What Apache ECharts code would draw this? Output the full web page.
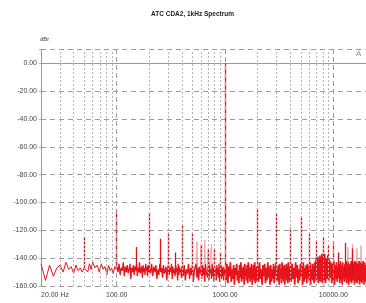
<!DOCTYPE html>
<html><head><meta charset="utf-8">
<script src="https://cdn.jsdelivr.net/npm/echarts@6/dist/echarts.min.js"></script>
<style>html,body{margin:0;padding:0;background:#fff}#c{width:366px;height:303px}</style>
</head><body><div id="c"></div>
<script>
const chartTitle = 'ATC CDA2, 1kHz Spectrum';
const yUnit = 'dBr';
const xTickValues = [20, 100, 1000, 10000];
const xTickTexts = ['20.00 Hz', '100.00', '1000.00', '10000.00'];
const gridMajorFreqs = [100, 1000, 10000];
const gridMinorFreqs = [30,40,50,60,70,80,90,200,300,400,500,600,700,800,900,2000,3000,4000,5000,6000,7000,8000,9000,20000];

// noise floor of the main trace, 20 Hz - 99 Hz
const lowFreqs = [20,22,24,26,28,30,32,34,36,38,40,42,44,46,48,50,52,54,56,58,
  60,63,66,69,72,75,78,81,84,87,90,93,96,99,100];
const lowLevels = [-144,-156,-145,-153,-147,-145,-150,-143,-148,-146,-151,-145,-149,-147,-150,-147,-146,-150,-144,-148,
  -143,-147,-145,-150,-144,-148,-146,-152,-145,-149,-147,-151,-146,-148,-146];
// 100 Hz - 990 Hz
const midFreqs = [100,102.5,105,107.5,110,112.5,115,117.5,120,122.5,125,127.5,130,132.5,135,137.5,140,142.5,145,147.5,
  150,152.5,155,157.5,160,162.5,165,167.5,170,172.5,175,177.5,180,182.5,185,187.5,190,192.5,195,197.5,
  200,205,210,215,220,225,230,235,240,245,250,255,260,265,270,275,280,285,290,295,
  300,305,310,315,320,325,330,335,340,345,350,355,360,365,370,375,380,385,390,395,
  400,410,420,430,440,450,460,470,480,490,500,510,520,530,540,550,560,570,580,590,
  600,610,620,630,640,650,660,670,680,690,700,710,720,730,740,750,760,770,780,790,
  800,810,820,830,840,850,860,870,880,890,900,910,920,930,940,950,960,970,980,990];
const midLevels = [-146,-150,-144,-152,-147,-149,-143,-153,-146,-150,-145,-151,-148,-144,-155,-147,-150,-145,-152,-146,
  -149,-144,-153,-147,-150,-143,-151,-148,-146,-154,-145,-150,-147,-152,-144,-149,-146,-153,-145,-150,
  -147,-151,-144,-153,-146,-150,-145,-155,-148,-152,-144,-150,-147,-154,-145,-151,-149,-146,-156,-148,
  -145,-152,-147,-150,-144,-155,-146,-151,-148,-153,-145,-150,-147,-156,-144,-152,-146,-150,-148,-154,
  -146,-153,-145,-156,-148,-151,-144,-155,-147,-152,-145,-157,-149,-150,-144,-154,-147,-156,-146,-151,
  -148,-155,-145,-152,-147,-157,-144,-150,-149,-154,-146,-156,-145,-151,-148,-155,-144,-153,-147,-157,
  -146,-150,-148,-156,-145,-152,-147,-154,-144,-157,-149,-151,-145,-155,-147,-153,-146,-156,-148,-152];
// 1 kHz - 20 kHz
const highFreqs = [1000,1020,1040,1060,1080,1100,1120,1140,1160,1180,1200,1220,1240,1260,1280,1300,1320,1340,1360,1380,
  1400,1420,1440,1460,1480,1500,1520,1540,1560,1580,1600,1620,1640,1660,1680,1700,1720,1740,1760,1780,
  1800,1820,1840,1860,1880,1900,1920,1940,1960,1980,
  2000,2040,2080,2120,2160,2200,2240,2280,2320,2360,2400,2440,2480,2520,2560,2600,2640,2680,2720,2760,
  2800,2840,2880,2920,2960,3000,3040,3080,3120,3160,3200,3240,3280,3320,3360,3400,3440,3480,3520,3560,
  3600,3640,3680,3720,3760,3800,3840,3880,3920,3960,
  4000,4080,4160,4240,4320,4400,4480,4560,4640,4720,4800,4880,4960,5040,5120,5200,5280,5360,5440,5520,
  5600,5680,5760,5840,5920,6000,6080,6160,6240,6320,6400,6480,6560,6640,6720,6800,6880,6960,7040,7120,
  7200,7280,7360,7440,7520,7600,7680,7760,7840,7920,
  8000,8150,8300,8450,8600,8750,8900,9050,9200,9350,9500,9650,9800,9950,10100,10250,10400,10550,10700,10850,
  11000,11150,11300,11450,11600,11750,11900,12050,12200,12350,12500,12650,12800,12950,13100,13250,13400,13550,13700,13850,
  14000,14150,14300,14450,14600,14750,14900,15050,15200,15350,15500,15650,15800,15950,16100,16250,16400,16550,16700,16850,
  17000,17150,17300,17450,17600,17750,17900,18050,18200,18350,18500,18650,18800,18950,19100,19250,19400,19550,19700,19850,20000];
const highLevels = [-147,-156,-144,-158,-146,-153,-143,-157,-148,-155,-145,-159,-147,-152,-144,-156,-149,-158,-145,-154,
  -143,-157,-147,-155,-146,-159,-144,-153,-148,-156,-145,-158,-143,-154,-147,-157,-146,-155,-144,-159,
  -148,-153,-145,-156,-143,-158,-147,-154,-146,-157,
  -146,-157,-143,-155,-148,-159,-145,-153,-144,-158,-147,-156,-143,-154,-146,-159,-145,-157,-148,-155,
  -144,-158,-146,-153,-143,-157,-147,-156,-145,-159,-144,-154,-148,-158,-143,-155,-146,-157,-145,-159,
  -147,-153,-144,-156,-146,-158,-143,-155,-148,-157,
  -146,-157,-144,-155,-147,-159,-143,-154,-145,-158,-148,-156,-144,-153,-146,-159,-143,-157,-147,-155,
  -145,-158,-144,-154,-146,-157,-143,-159,-148,-155,-144,-156,-145,-158,-143,-154,-141,-157,-140,-155,
  -139,-158,-141,-156,-138,-157,-140,-154,-137,-158,
  -139,-156,-137,-158,-140,-155,-138,-157,-141,-154,-143,-158,-144,-156,-142,-159,-145,-155,-143,-157,
  -146,-154,-144,-158,-142,-156,-145,-159,-143,-155,-147,-157,-144,-153,-142,-158,-146,-156,-143,-159,
  -145,-154,-144,-157,-142,-158,-147,-155,-143,-156,-145,-159,-142,-154,-146,-157,-143,-158,-144,-155,
  -147,-156,-142,-159,-145,-154,-143,-157,-146,-158,-144,-155,-142,-156,-147,-159,-143,-154,-145,-157,-148];

// discrete tones of the main trace (fundamental, harmonics, mains)
const spikeFreqs = [50,100,150,200,250,300,350,400,500,600,700,800,900,1000,2000,3000,4000,5000,6000,7000,8000,9000,10000,11000,13000,15000];
const spikeLevels = [-125,-105,-132,-107,-126,-122,-136,-116,-122,-130,-134,-133,-136,0,-104,-108,-118,-110,-122,-127,-125,-131,-128,-136,-129,-133];
const spikeBases = [-147,-148,-149,-150,-150,-150,-151,-151,-152,-152,-152,-153,-153,-153,-153,-154,-154,-154,-154,-154,-154,-154,-154,-154,-154,-154];

// second (lighter) trace
const pinkFreqs = [400,540,550,560,590,600,610,640,650,660,690,700,710,740,750,760,1000,
  13400,13600,13800,14800,15000,15200,16300,16500,16700,17800,18000,18200,20000];
const pinkLevels = [-152,-152,-128,-152,-152,-131,-152,-152,-127,-152,-152,-133,-152,-152,-130,-152,-152,
  -152,-132,-152,-152,-130,-152,-152,-133,-152,-152,-131,-152,-152];

const chart = echarts.init(document.getElementById('c'), null, {renderer: 'canvas'});
const font = 'Liberation Sans, Arial, sans-serif';
const red = '#e8141c';
const gridLines = gridMajorFreqs.map(f => ({xAxis: f, lineStyle: {color: '#9a9a9a', type: [5, 3], width: 1}}))
  .concat(gridMinorFreqs.map(f => ({xAxis: f, lineStyle: {color: '#b4b4b4', type: [2, 2], width: 1}})));
const pairs = (xs, ys) => xs.map((f, i) => [f, ys[i]]);

chart.setOption({
  animation: false,
  backgroundColor: '#fff',
  title: {text: chartTitle, left: 146, top: 6,
    textStyle: {fontSize: 6.5, fontWeight: 'bold', fontFamily: font, color: '#222'}},
  graphic: [
    {type: 'text', left: 40, top: 36, style: {text: yUnit, fontSize: 6, fontFamily: font, fill: '#444'}},
    {type: 'text', left: 356, top: 50, style: {text: 'A', fontSize: 8, fontFamily: font, fill: '#888'}}
  ],
  grid: {left: 41, top: 49.5, width: 330, height: 236.5, containLabel: false},
  xAxis: {
    type: 'log', logBase: 10, min: 20, max: 20000,
    axisLine: {show: true, lineStyle: {color: '#999', width: 1}},
    axisTick: {show: false},
    splitLine: {show: false},
    minorSplitLine: {show: false},
    axisLabel: {
      fontSize: 7, fontFamily: font, color: '#444', margin: 6,
      alignMinLabel: 'left', showMaxLabel: false,
      formatter: v => { const i = xTickValues.indexOf(Math.round(v)); return i >= 0 ? xTickTexts[i] : ''; }
    }
  },
  yAxis: {
    type: 'value', min: -160, max: 10, interval: 20,
    axisLine: {show: true, lineStyle: {color: '#999', width: 1}},
    axisTick: {show: true, length: 4, lineStyle: {color: '#aaa', type: [2, 2]}},
    splitLine: {show: true, lineStyle: {color: '#9a9a9a', type: [5, 4], width: 1}},
    axisLabel: {fontSize: 7, fontFamily: font, color: '#444', margin: 4,
      formatter: v => v > 0 ? '' : v.toFixed(2)}
  },
  series: [
    {type: 'line', name: 'R', z: 1, showSymbol: false, symbol: 'none', silent: true,
      data: pairs(pinkFreqs, pinkLevels),
      lineStyle: {color: '#f2a2a8', width: 1},
      markLine: {silent: true, symbol: 'none', label: {show: false}, animation: false, data: gridLines}},
    {type: 'line', name: 'L low', z: 3, showSymbol: false, symbol: 'none', silent: true, sampling: null,
      data: pairs(lowFreqs, lowLevels),
      lineStyle: {color: red, width: 1}},
    {type: 'line', name: 'L mid', z: 3, showSymbol: false, symbol: 'none', silent: true, sampling: null,
      data: pairs(midFreqs, midLevels),
      lineStyle: {color: red, width: 1.3}},
    {type: 'line', name: 'L high', z: 3, showSymbol: false, symbol: 'none', silent: true, sampling: null,
      data: pairs(highFreqs, highLevels),
      lineStyle: {color: red, width: 1.7}},
    {type: 'lines', name: 'L tones', coordinateSystem: 'cartesian2d', z: 4, silent: true,
      data: spikeFreqs.map((f, i) => ({coords: [[f, spikeBases[i]], [f, spikeLevels[i]]]})),
      lineStyle: {color: '#e01018', width: 1.3, opacity: 1}}
  ]
});
</script></body></html>
